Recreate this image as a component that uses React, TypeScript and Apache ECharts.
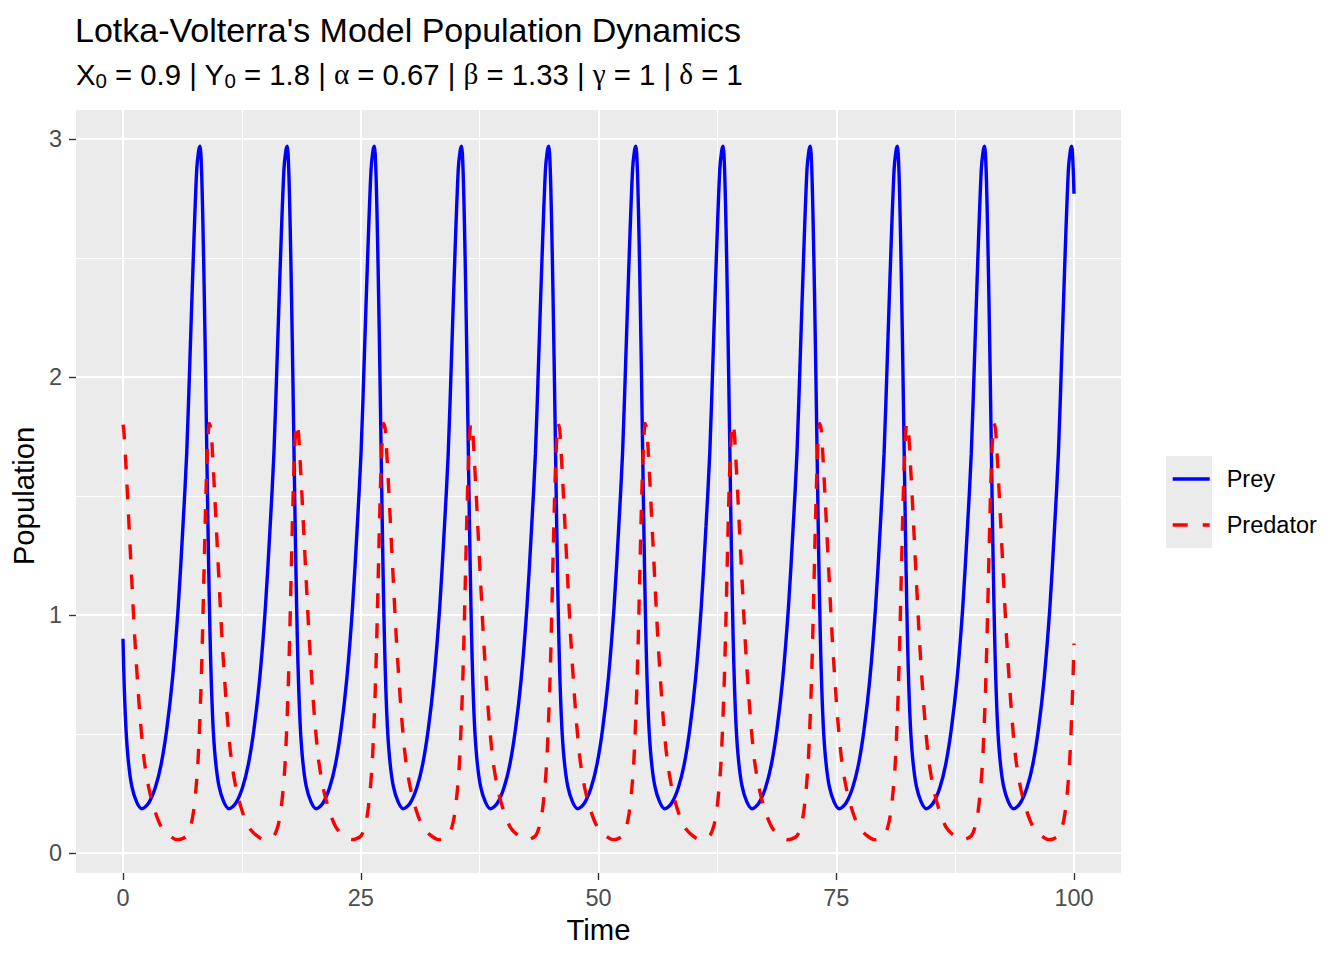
import { useEffect, useRef } from 'react';
import * as echarts from 'echarts';

const FONT = "'Liberation Sans', Arial, sans-serif";
const GREEK = "'Liberation Serif', 'DejaVu Serif', serif";

const seriesNames = ['Prey', 'Predator'];

// Prey population, [time, value] (one line per cycle)
const prey: [number, number][] = [
    [0, 0.9], [0.13, 0.7], [0.33, 0.51], [0.58, 0.38], [0.93, 0.28], [1.43, 0.215], [1.98, 0.186],
    [2.7, 0.21], [3.4, 0.275], [4.0, 0.37], [4.6, 0.52], [5.2, 0.73], [5.8, 1.03], [6.3, 1.37], [6.7, 1.68], [7.05, 2.09], [7.4, 2.51], [7.75, 2.87], [7.95, 2.95], [8.1, 2.97], [8.25, 2.88], [8.4, 2.65], [8.55, 2.34], [8.7, 1.98], [8.85, 1.59], [9.0, 1.22], [9.15, 0.92], [9.3, 0.7], [9.5, 0.51], [9.75, 0.38], [10.1, 0.28], [10.6, 0.215], [11.15, 0.186],
    [11.87, 0.21], [12.57, 0.275], [13.17, 0.37], [13.77, 0.52], [14.37, 0.73], [14.97, 1.03], [15.47, 1.37], [15.87, 1.68], [16.22, 2.09], [16.57, 2.51], [16.92, 2.87], [17.12, 2.95], [17.27, 2.97], [17.42, 2.88], [17.57, 2.65], [17.72, 2.34], [17.87, 1.98], [18.02, 1.59], [18.17, 1.22], [18.32, 0.92], [18.47, 0.7], [18.67, 0.51], [18.92, 0.38], [19.27, 0.28], [19.77, 0.215], [20.32, 0.186],
    [21.03, 0.21], [21.73, 0.275], [22.33, 0.37], [22.93, 0.52], [23.53, 0.73], [24.13, 1.03], [24.63, 1.37], [25.03, 1.68], [25.38, 2.09], [25.73, 2.51], [26.08, 2.87], [26.28, 2.95], [26.43, 2.97], [26.58, 2.88], [26.73, 2.65], [26.88, 2.34], [27.03, 1.98], [27.18, 1.59], [27.33, 1.22], [27.48, 0.92], [27.63, 0.7], [27.83, 0.51], [28.08, 0.38], [28.43, 0.28], [28.93, 0.215], [29.48, 0.186],
    [30.2, 0.21], [30.9, 0.275], [31.5, 0.37], [32.1, 0.52], [32.7, 0.73], [33.3, 1.03], [33.8, 1.37], [34.2, 1.68], [34.55, 2.09], [34.9, 2.51], [35.25, 2.87], [35.45, 2.95], [35.6, 2.97], [35.75, 2.88], [35.9, 2.65], [36.05, 2.34], [36.2, 1.98], [36.35, 1.59], [36.5, 1.22], [36.65, 0.92], [36.8, 0.7], [37.0, 0.51], [37.25, 0.38], [37.6, 0.28], [38.1, 0.215], [38.65, 0.186],
    [39.37, 0.21], [40.07, 0.275], [40.67, 0.37], [41.27, 0.52], [41.87, 0.73], [42.47, 1.03], [42.97, 1.37], [43.37, 1.68], [43.72, 2.09], [44.07, 2.51], [44.42, 2.87], [44.62, 2.95], [44.77, 2.97], [44.92, 2.88], [45.07, 2.65], [45.22, 2.34], [45.37, 1.98], [45.52, 1.59], [45.67, 1.22], [45.82, 0.92], [45.97, 0.7], [46.17, 0.51], [46.42, 0.38], [46.77, 0.28], [47.27, 0.215], [47.82, 0.186],
    [48.53, 0.21], [49.23, 0.275], [49.83, 0.37], [50.43, 0.52], [51.03, 0.73], [51.63, 1.03], [52.13, 1.37], [52.53, 1.68], [52.88, 2.09], [53.23, 2.51], [53.58, 2.87], [53.78, 2.95], [53.93, 2.97], [54.08, 2.88], [54.23, 2.65], [54.38, 2.34], [54.53, 1.98], [54.68, 1.59], [54.83, 1.22], [54.98, 0.92], [55.13, 0.7], [55.33, 0.51], [55.58, 0.38], [55.93, 0.28], [56.43, 0.215], [56.98, 0.186],
    [57.7, 0.21], [58.4, 0.275], [59.0, 0.37], [59.6, 0.52], [60.2, 0.73], [60.8, 1.03], [61.3, 1.37], [61.7, 1.68], [62.05, 2.09], [62.4, 2.51], [62.75, 2.87], [62.95, 2.95], [63.1, 2.97], [63.25, 2.88], [63.4, 2.65], [63.55, 2.34], [63.7, 1.98], [63.85, 1.59], [64.0, 1.22], [64.15, 0.92], [64.3, 0.7], [64.5, 0.51], [64.75, 0.38], [65.1, 0.28], [65.6, 0.215], [66.15, 0.186],
    [66.87, 0.21], [67.57, 0.275], [68.17, 0.37], [68.77, 0.52], [69.37, 0.73], [69.97, 1.03], [70.47, 1.37], [70.87, 1.68], [71.22, 2.09], [71.57, 2.51], [71.92, 2.87], [72.12, 2.95], [72.27, 2.97], [72.42, 2.88], [72.57, 2.65], [72.72, 2.34], [72.87, 1.98], [73.02, 1.59], [73.17, 1.22], [73.32, 0.92], [73.47, 0.7], [73.67, 0.51], [73.92, 0.38], [74.27, 0.28], [74.77, 0.215], [75.32, 0.186],
    [76.03, 0.21], [76.73, 0.275], [77.33, 0.37], [77.93, 0.52], [78.53, 0.73], [79.13, 1.03], [79.63, 1.37], [80.03, 1.68], [80.38, 2.09], [80.73, 2.51], [81.08, 2.87], [81.28, 2.95], [81.43, 2.97], [81.58, 2.88], [81.73, 2.65], [81.88, 2.34], [82.03, 1.98], [82.18, 1.59], [82.33, 1.22], [82.48, 0.92], [82.63, 0.7], [82.83, 0.51], [83.08, 0.38], [83.43, 0.28], [83.93, 0.215], [84.48, 0.186],
    [85.2, 0.21], [85.9, 0.275], [86.5, 0.37], [87.1, 0.52], [87.7, 0.73], [88.3, 1.03], [88.8, 1.37], [89.2, 1.68], [89.55, 2.09], [89.9, 2.51], [90.25, 2.87], [90.45, 2.95], [90.6, 2.97], [90.75, 2.88], [90.9, 2.65], [91.05, 2.34], [91.2, 1.98], [91.35, 1.59], [91.5, 1.22], [91.65, 0.92], [91.8, 0.7], [92.0, 0.51], [92.25, 0.38], [92.6, 0.28], [93.1, 0.215], [93.65, 0.186],
    [94.36, 0.21], [95.06, 0.275], [95.66, 0.37], [96.26, 0.52], [96.86, 0.73], [97.46, 1.03], [97.96, 1.37], [98.36, 1.68], [98.71, 2.09], [99.06, 2.51], [99.41, 2.87], [99.61, 2.95], [99.76, 2.97], [99.91, 2.88], [100, 2.77],
];

// Predator population, [time, value] (one line per cycle)
const predator: [number, number][] = [
    [0, 1.8], [0.08, 1.78], [0.28, 1.65], [0.48, 1.5], [0.68, 1.34], [0.93, 1.14], [1.23, 0.91], [1.53, 0.72], [1.83, 0.555], [2.23, 0.39], [2.73, 0.27], [3.33, 0.18], [4.03, 0.11], [4.83, 0.075], [5.7, 0.056],
    [6.1, 0.058], [6.7, 0.072], [7.1, 0.11], [7.4, 0.17], [7.65, 0.26], [7.85, 0.36], [8.02, 0.5], [8.2, 0.69], [8.35, 0.9], [8.5, 1.15], [8.65, 1.4], [8.8, 1.61], [8.95, 1.75], [9.08, 1.805], [9.25, 1.78], [9.45, 1.65], [9.65, 1.5], [9.85, 1.34], [10.1, 1.14], [10.4, 0.91], [10.7, 0.72], [11.0, 0.555], [11.4, 0.39], [11.9, 0.27], [12.5, 0.18], [13.2, 0.11], [14.0, 0.075], [14.87, 0.056],
    [15.27, 0.058], [15.87, 0.072], [16.27, 0.11], [16.57, 0.17], [16.82, 0.26], [17.02, 0.36], [17.19, 0.5], [17.37, 0.69], [17.52, 0.9], [17.67, 1.15], [17.82, 1.4], [17.97, 1.61], [18.12, 1.75], [18.25, 1.805], [18.42, 1.78], [18.62, 1.65], [18.82, 1.5], [19.02, 1.34], [19.27, 1.14], [19.57, 0.91], [19.87, 0.72], [20.17, 0.555], [20.57, 0.39], [21.07, 0.27], [21.67, 0.18], [22.37, 0.11], [23.17, 0.075], [24.04, 0.056],
    [24.43, 0.058], [25.03, 0.072], [25.43, 0.11], [25.73, 0.17], [25.98, 0.26], [26.18, 0.36], [26.35, 0.5], [26.53, 0.69], [26.68, 0.9], [26.83, 1.15], [26.98, 1.4], [27.13, 1.61], [27.28, 1.75], [27.41, 1.805], [27.58, 1.78], [27.78, 1.65], [27.98, 1.5], [28.18, 1.34], [28.43, 1.14], [28.73, 0.91], [29.03, 0.72], [29.33, 0.555], [29.73, 0.39], [30.23, 0.27], [30.83, 0.18], [31.53, 0.11], [32.33, 0.075], [33.2, 0.056],
    [33.6, 0.058], [34.2, 0.072], [34.6, 0.11], [34.9, 0.17], [35.15, 0.26], [35.35, 0.36], [35.52, 0.5], [35.7, 0.69], [35.85, 0.9], [36.0, 1.15], [36.15, 1.4], [36.3, 1.61], [36.45, 1.75], [36.58, 1.805], [36.75, 1.78], [36.95, 1.65], [37.15, 1.5], [37.35, 1.34], [37.6, 1.14], [37.9, 0.91], [38.2, 0.72], [38.5, 0.555], [38.9, 0.39], [39.4, 0.27], [40.0, 0.18], [40.7, 0.11], [41.5, 0.075], [42.37, 0.056],
    [42.77, 0.058], [43.37, 0.072], [43.77, 0.11], [44.07, 0.17], [44.32, 0.26], [44.52, 0.36], [44.69, 0.5], [44.87, 0.69], [45.02, 0.9], [45.17, 1.15], [45.32, 1.4], [45.47, 1.61], [45.62, 1.75], [45.75, 1.805], [45.92, 1.78], [46.12, 1.65], [46.32, 1.5], [46.52, 1.34], [46.77, 1.14], [47.07, 0.91], [47.37, 0.72], [47.67, 0.555], [48.07, 0.39], [48.57, 0.27], [49.17, 0.18], [49.87, 0.11], [50.67, 0.075], [51.54, 0.056],
    [51.93, 0.058], [52.53, 0.072], [52.93, 0.11], [53.23, 0.17], [53.48, 0.26], [53.68, 0.36], [53.85, 0.5], [54.03, 0.69], [54.18, 0.9], [54.33, 1.15], [54.48, 1.4], [54.63, 1.61], [54.78, 1.75], [54.91, 1.805], [55.08, 1.78], [55.28, 1.65], [55.48, 1.5], [55.68, 1.34], [55.93, 1.14], [56.23, 0.91], [56.53, 0.72], [56.83, 0.555], [57.23, 0.39], [57.73, 0.27], [58.33, 0.18], [59.03, 0.11], [59.83, 0.075], [60.7, 0.056],
    [61.1, 0.058], [61.7, 0.072], [62.1, 0.11], [62.4, 0.17], [62.65, 0.26], [62.85, 0.36], [63.02, 0.5], [63.2, 0.69], [63.35, 0.9], [63.5, 1.15], [63.65, 1.4], [63.8, 1.61], [63.95, 1.75], [64.08, 1.805], [64.25, 1.78], [64.45, 1.65], [64.65, 1.5], [64.85, 1.34], [65.1, 1.14], [65.4, 0.91], [65.7, 0.72], [66.0, 0.555], [66.4, 0.39], [66.9, 0.27], [67.5, 0.18], [68.2, 0.11], [69.0, 0.075], [69.87, 0.056],
    [70.27, 0.058], [70.87, 0.072], [71.27, 0.11], [71.57, 0.17], [71.82, 0.26], [72.02, 0.36], [72.19, 0.5], [72.37, 0.69], [72.52, 0.9], [72.67, 1.15], [72.82, 1.4], [72.97, 1.61], [73.12, 1.75], [73.25, 1.805], [73.42, 1.78], [73.62, 1.65], [73.82, 1.5], [74.02, 1.34], [74.27, 1.14], [74.57, 0.91], [74.87, 0.72], [75.17, 0.555], [75.57, 0.39], [76.07, 0.27], [76.67, 0.18], [77.37, 0.11], [78.17, 0.075], [79.04, 0.056],
    [79.43, 0.058], [80.03, 0.072], [80.43, 0.11], [80.73, 0.17], [80.98, 0.26], [81.18, 0.36], [81.35, 0.5], [81.53, 0.69], [81.68, 0.9], [81.83, 1.15], [81.98, 1.4], [82.13, 1.61], [82.28, 1.75], [82.41, 1.805], [82.58, 1.78], [82.78, 1.65], [82.98, 1.5], [83.18, 1.34], [83.43, 1.14], [83.73, 0.91], [84.03, 0.72], [84.33, 0.555], [84.73, 0.39], [85.23, 0.27], [85.83, 0.18], [86.53, 0.11], [87.33, 0.075], [88.2, 0.056],
    [88.6, 0.058], [89.2, 0.072], [89.6, 0.11], [89.9, 0.17], [90.15, 0.26], [90.35, 0.36], [90.52, 0.5], [90.7, 0.69], [90.85, 0.9], [91.0, 1.15], [91.15, 1.4], [91.3, 1.61], [91.45, 1.75], [91.58, 1.805], [91.75, 1.78], [91.95, 1.65], [92.15, 1.5], [92.35, 1.34], [92.6, 1.14], [92.9, 0.91], [93.2, 0.72], [93.5, 0.555], [93.9, 0.39], [94.4, 0.27], [95.0, 0.18], [95.7, 0.11], [96.5, 0.075], [97.37, 0.056],
    [97.76, 0.058], [98.36, 0.072], [98.76, 0.11], [99.06, 0.17], [99.31, 0.26], [99.51, 0.36], [99.68, 0.5], [99.86, 0.69], [100, 0.88],
];

const titleText = "Lotka-Volterra's Model Population Dynamics";
const subtitleText =
    '{n|X}{s|0}{n| = 0.9 | Y}{s|0}{n| = 1.8 | }{g|α}{n| = 0.67 | }{g|β}{n| = 1.33 | }{g|γ}{n| = 1 | }{g|δ}{n| = 1}';

const WHITE_MAJOR = { color: '#FFFFFF', width: 2 };
const WHITE_MINOR = { color: '#FFFFFF', width: 1 };
const TICK = { show: true, length: 7, lineStyle: { color: '#333333', width: 1.4 } };
const TICK_LABEL = { color: '#4D4D4D', fontSize: 23.5, fontFamily: FONT };
const AXIS_NAME = { color: '#000000', fontSize: 29.3, fontFamily: FONT };

export default function App() {
    const chartRef = useRef<HTMLDivElement>(null);

    useEffect(() => {
        if (!chartRef.current) return;
        const chart = echarts.init(chartRef.current, undefined, { renderer: 'svg' });

        const hidden = (gridIndex: number, min: number, max: number) => ({
            gridIndex, type: 'value', min, max, show: false,
        });

        const option = {
            animation: false,
            title: [
                {
                    text: titleText,
                    left: 75,
                    top: 10,
                    padding: 0,
                    textStyle: { fontFamily: FONT, fontSize: 34, fontWeight: 'normal', color: '#000000', lineHeight: 40 },
                },
                {
                    text: subtitleText,
                    left: 76,
                    top: 57,
                    padding: 0,
                    textStyle: {
                        fontWeight: 'normal',
                        rich: {
                            n: { fontFamily: FONT, fontSize: 29.3, fontWeight: 'normal', color: '#000000', lineHeight: 34 },
                            s: { fontFamily: FONT, fontSize: 20.5, fontWeight: 'normal', color: '#000000', lineHeight: 20, verticalAlign: 'bottom' },
                            g: { fontFamily: GREEK, fontSize: 29.3, fontWeight: 'normal', color: '#000000', lineHeight: 34 },
                        },
                    },
                },
            ],
            legend: {
                data: seriesNames,
                orient: 'vertical',
                left: 1171,
                top: 467,
                padding: 0,
                itemWidth: 37,
                itemHeight: 20,
                itemGap: 22,
                selectedMode: false,
                itemStyle: { opacity: 0 },
                lineStyle: { width: 3.4 },
                textStyle: { fontFamily: FONT, fontSize: 23.5, color: '#000000', padding: [0, 0, 0, 12] },
            },
            graphic: [
                { type: 'rect', shape: { x: 1166, y: 456, width: 46, height: 92 }, style: { fill: '#EBEBEB' }, z: 0 },
            ],
            grid: [
                // panel background
                { left: 76, top: 110, width: 1045, height: 763, show: true, backgroundColor: '#EBEBEB', borderWidth: 0 },
                // time axis, vertical grid lines
                { left: 123, top: 110, width: 951, height: 763 },
                // population axis, horizontal grid lines
                { left: 76, top: 139, width: 1045, height: 714 },
                // data
                { left: 123, top: 139, width: 951, height: 714 },
            ],
            xAxis: [
                hidden(0, 0, 1),
                {
                    gridIndex: 1,
                    type: 'value',
                    min: 0,
                    max: 100,
                    interval: 25,
                    axisLine: { show: false },
                    axisTick: TICK,
                    axisLabel: { ...TICK_LABEL, margin: 13 },
                    splitLine: { show: true, lineStyle: WHITE_MAJOR },
                    minorTick: { show: false, splitNumber: 2 },
                    minorSplitLine: { show: true, lineStyle: WHITE_MINOR },
                    name: 'Time',
                    nameLocation: 'middle',
                    nameGap: 42,
                    nameTextStyle: AXIS_NAME,
                },
                hidden(2, 0, 1),
                hidden(3, 0, 100),
            ],
            yAxis: [
                hidden(0, 0, 1),
                hidden(1, 0, 1),
                {
                    gridIndex: 2,
                    type: 'value',
                    min: 0,
                    max: 3,
                    interval: 1,
                    axisLine: { show: false },
                    axisTick: TICK,
                    axisLabel: { ...TICK_LABEL, margin: 14 },
                    splitLine: { show: true, lineStyle: WHITE_MAJOR },
                    minorTick: { show: false, splitNumber: 2 },
                    minorSplitLine: { show: true, lineStyle: WHITE_MINOR },
                    name: 'Population',
                    nameLocation: 'middle',
                    nameGap: 36,
                    nameTextStyle: AXIS_NAME,
                },
                hidden(3, 0, 3),
            ],
            series: [
                {
                    name: seriesNames[0],
                    type: 'line',
                    xAxisIndex: 3,
                    yAxisIndex: 3,
                    data: prey,
                    symbol: 'none',
                    showSymbol: false,
                    smooth: 0.3,
                    clip: false,
                    itemStyle: { color: '#0000FF' },
                    lineStyle: { color: '#0000FF', width: 3.4 },
                },
                {
                    name: seriesNames[1],
                    type: 'line',
                    xAxisIndex: 3,
                    yAxisIndex: 3,
                    data: predator,
                    symbol: 'none',
                    showSymbol: false,
                    smooth: 0.3,
                    clip: false,
                    itemStyle: { color: '#FF0000' },
                    lineStyle: { color: '#FF0000', width: 3.4, type: [15, 15] },
                },
            ],
        };

        chart.setOption(option);

        return () => {
            chart.dispose();
        };
    }, []);

    return (
        <div
            ref={chartRef}
            style={{ position: 'absolute', left: 0, top: 0, width: '1344px', height: '960px' }}
        />
    );
}
